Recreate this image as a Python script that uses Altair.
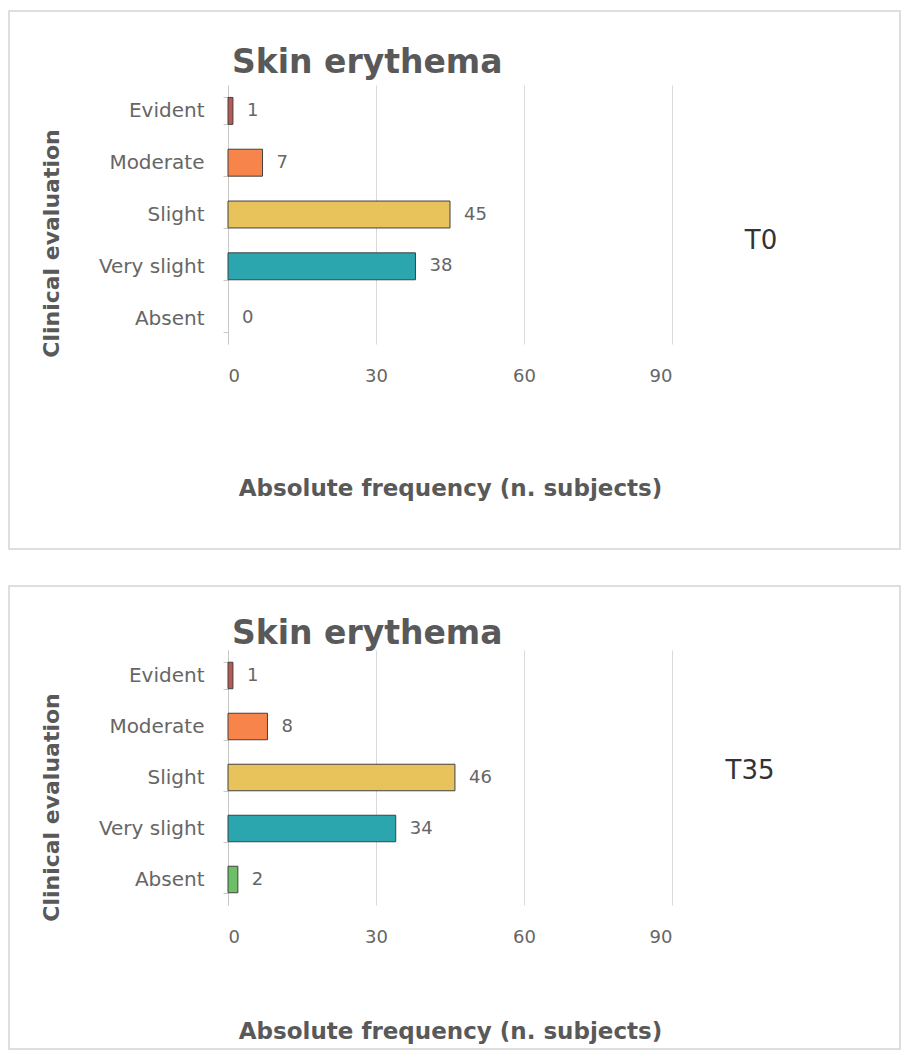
import altair as alt
import pandas as pd

categories = ["Evident", "Moderate", "Slight", "Very slight", "Absent"]
t0_counts = [1, 7, 45, 38, 0]
t35_counts = [1, 8, 46, 34, 2]
x_ticks = [0, 30, 60, 90]
palette = ["#B75A55", "#F7844A", "#E8C25A", "#2BA5AE", "#6BBF66"]
panel_labels = ["T0", "T35"]

FONT = "DejaVu Sans"
GRAY = "#595959"
LGRAY = "#666666"
GRID = "#D9D9D9"


def panel(counts, tag, height, title_y, tag_xy, xtitle_y, ytitle_y, box):
    df = pd.DataFrame({"category": categories, "count": counts})
    base = alt.Chart(df)

    x = alt.X(
        "count:Q",
        scale=alt.Scale(domain=[0, 90], nice=False),
        axis=alt.Axis(
            values=x_ticks,
            title="Absolute frequency (n. subjects)",
            domain=False,
            ticks=False,
            grid=True,
            gridColor=GRID,
            gridWidth=1,
            labelFont=FONT,
            labelFontSize=18,
            labelColor=LGRAY,
            labelPadding=23,
            titleFont=FONT,
            titleFontSize=23,
            titleFontWeight="bold",
            titleColor=GRAY,
            titleY=xtitle_y,
            titleBaseline="middle",
        ),
    )
    y = alt.Y(
        "category:N",
        sort=categories,
        scale=alt.Scale(paddingInner=0.48, paddingOuter=0.24),
        axis=alt.Axis(
            title="Clinical evaluation",
            domain=True,
            domainColor="#C8C8C8",
            domainWidth=1,
            ticks=True,
            tickBand="extent",
            tickColor="#C8C8C8",
            tickSize=5,
            grid=False,
            labelFont=FONT,
            labelFontSize=20,
            labelColor=LGRAY,
            labelPadding=19,
            titleFont=FONT,
            titleFontSize=22,
            titleFontWeight="bold",
            titleColor=GRAY,
            titleX=-177,
            titleY=ytitle_y,
            titleAngle=-90,
            titleAlign="center",
            titleBaseline="middle",
        ),
    )

    bars = base.mark_bar(stroke="#404040", strokeWidth=1).encode(
        x=x,
        y=y,
        color=alt.Color(
            "category:N",
            scale=alt.Scale(domain=categories, range=palette),
            legend=None,
        ),
        strokeOpacity=alt.condition("datum.count == 0", alt.value(0), alt.value(1)),
    )
    values = base.mark_text(
        align="left", baseline="middle", dx=14, font=FONT, fontSize=18, color=LGRAY
    ).encode(x="count:Q", y=alt.Y("category:N", sort=categories), text="count:Q")

    one = alt.Data(values=[{"k": 1}])
    frame = alt.Chart(one).mark_rect(
        fillOpacity=0, stroke="#D4D4D4", strokeWidth=1.5
    ).encode(
        x=alt.value(box[0]), x2=alt.value(box[1]), y=alt.value(box[2]), y2=alt.value(box[3])
    )
    heading = alt.Chart(one).mark_text(
        text="Skin erythema",
        align="left",
        baseline="alphabetic",
        font=FONT,
        fontSize=33,
        fontWeight="bold",
        color=GRAY,
    ).encode(x=alt.value(4), y=alt.value(title_y))
    tag_text = alt.Chart(one).mark_text(
        text=tag,
        align="center",
        baseline="middle",
        font=FONT,
        fontSize=26,
        color="#333333",
    ).encode(x=alt.value(tag_xy[0]), y=alt.value(tag_xy[1]))

    return alt.layer(frame, bars, values, heading, tag_text).properties(
        width=444, height=height
    )


top = panel(t0_counts, panel_labels[0], 259, -12, (533, 156), 144, 158, (-219, 672, -74, 464))
bottom = panel(t35_counts, panel_labels[1], 255, -6, (522, 121), 126, 157, (-219, 672, -64, 399))

chart = alt.vconcat(top, bottom, spacing=35).properties(
    padding={"left": 0, "top": 2, "right": 0, "bottom": 0}
).configure_view(stroke=None)

chart.save("out.html", embed_options={"renderer": "svg", "actions": False})
